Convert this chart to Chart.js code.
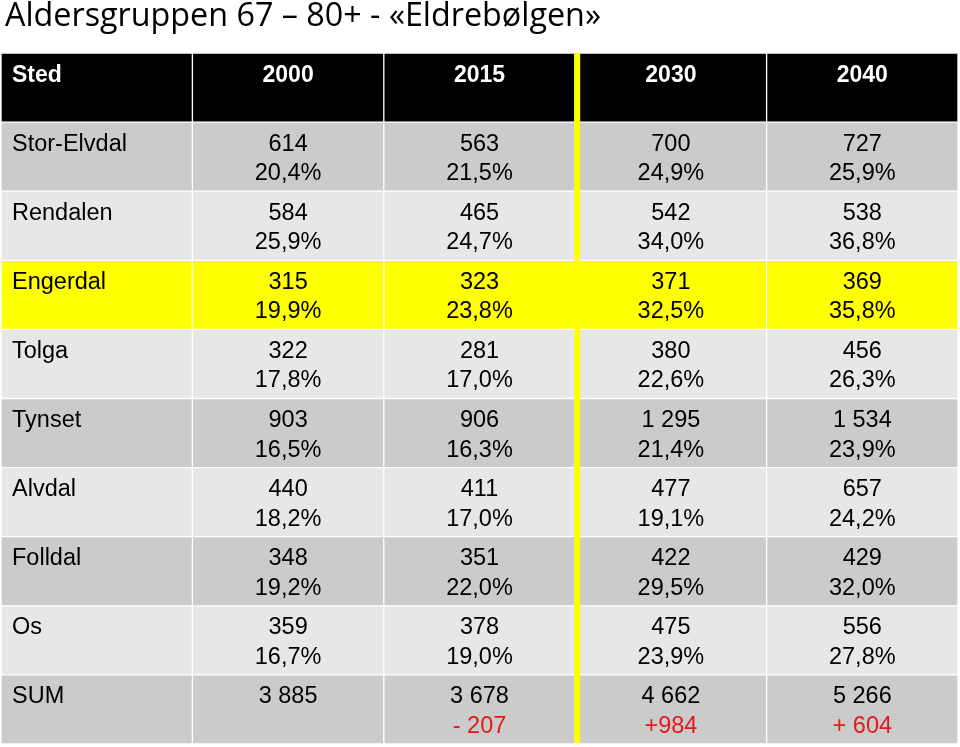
<!DOCTYPE html>
<html lang="no">
<head>
    <meta charset="UTF-8" />
    <title>Aldersgruppen 67 – 80+</title>
    <script src="https://cdn.jsdelivr.net/npm/chart.js"></script>
    <style>
        html, body { margin: 0; background: #fff; }
        #wrap { width: 960px; height: 747px; position: relative; }
    </style>
</head>
<body>
    <div id="wrap"><canvas id="tableChart"></canvas></div>

    <script>
        const titleText = 'Aldersgruppen 67 – 80+ - «Eldrebølgen»';
        const columns = ['Sted', '2000', '2015', '2030', '2040'];
        const places = ['Stor-Elvdal', 'Rendalen', 'Engerdal', 'Tolga', 'Tynset', 'Alvdal', 'Folldal', 'Os'];
        const highlightPlace = 'Engerdal';

        // antall personer 67-80+
        const count2000 = [614, 584, 315, 322, 903, 440, 348, 359];
        const count2015 = [563, 465, 323, 281, 906, 411, 351, 378];
        const count2030 = [700, 542, 371, 380, 1295, 477, 422, 475];
        const count2040 = [727, 538, 369, 456, 1534, 657, 429, 556];

        // andel (%)
        const share2000 = [20.4, 25.9, 19.9, 17.8, 16.5, 18.2, 19.2, 16.7];
        const share2015 = [21.5, 24.7, 23.8, 17.0, 16.3, 17.0, 22.0, 19.0];
        const share2030 = [24.9, 34.0, 32.5, 22.6, 21.4, 19.1, 29.5, 23.9];
        const share2040 = [25.9, 36.8, 35.8, 26.3, 23.9, 24.2, 32.0, 27.8];

        const sumTotals = [3885, 3678, 4662, 5266];
        const sumChanges = ['', '- 207', '+984', '+ 604'];

        const counts = [count2000, count2015, count2030, count2040];
        const shares = [share2000, share2015, share2030, share2040];
        const rows = ['Sted', ...places, 'SUM'];

        const fmtCount = n => String(n).replace(/\B(?=(\d{3})+(?!\d))/g, ' ');
        const fmtShare = v => v.toFixed(1).replace('.', ',') + '%';

        function rowColor(label, r) {
            if (r === 0) return '#000000';
            if (label === highlightPlace) return '#ffff00';
            return r % 2 === 1 ? '#cbcbcb' : '#e7e7e7';
        }

        const datasets = columns.map((col, c) => ({
            label: col,
            data: rows.map(() => [c, c + 1]),
            backgroundColor: rows.map(rowColor),
            borderColor: '#ffffff',
            borderWidth: 1,
            borderSkipped: false,
            grouped: false,
            barPercentage: 1,
            categoryPercentage: 1
        }));

        const cellText = {
            id: 'cellText',
            afterDatasetsDraw(chart) {
                const { ctx, chartArea, scales: { x, y } } = chart;
                const rowH = (chartArea.bottom - chartArea.top) / rows.length;

                ctx.save();

                // gul skillelinje mellom 2015 og 2030
                const xd = x.getPixelForValue(3);
                ctx.fillStyle = '#ffff00';
                ctx.fillRect(xd - 1, chartArea.top, 6, chartArea.bottom - chartArea.top - 1);

                ctx.textBaseline = 'alphabetic';
                rows.forEach((label, r) => {
                    const top = y.getPixelForValue(r) - rowH / 2;
                    const line1 = top + 28.5;
                    const line2 = top + 58;

                    if (r === 0) {
                        ctx.font = 'bold 23px "Liberation Sans", Arial, sans-serif';
                        ctx.fillStyle = '#ffffff';
                        columns.forEach((col, c) => {
                            ctx.textAlign = c === 0 ? 'left' : 'center';
                            const tx = c === 0 ? x.getPixelForValue(0) + 11 : x.getPixelForValue(c + 0.5);
                            ctx.fillText(col, tx, line1);
                        });
                        return;
                    }

                    ctx.font = '23.5px "Liberation Sans", Arial, sans-serif';
                    ctx.fillStyle = '#000000';
                    ctx.textAlign = 'left';
                    ctx.fillText(label, x.getPixelForValue(0) + 11, line1);

                    ctx.textAlign = 'center';
                    for (let c = 1; c < columns.length; c++) {
                        const cx = x.getPixelForValue(c + 0.5);
                        if (label === 'SUM') {
                            ctx.fillStyle = '#000000';
                            ctx.fillText(fmtCount(sumTotals[c - 1]), cx, line1);
                            ctx.fillStyle = '#e21a1a';
                            ctx.fillText(sumChanges[c - 1], cx, line2);
                        } else {
                            ctx.fillStyle = '#000000';
                            ctx.fillText(fmtCount(counts[c - 1][r - 1]), cx, line1);
                            ctx.fillText(fmtShare(shares[c - 1][r - 1]), cx, line2);
                        }
                    }
                });

                // tittel
                ctx.font = '28px "Open Sans", sans-serif';
                const w = ctx.measureText(titleText).width;
                const size = 28 * 596 / w;
                ctx.font = size.toFixed(2) + 'px "Open Sans", sans-serif';
                ctx.textAlign = 'left';
                ctx.fillStyle = '#000000';
                ctx.fillText(titleText, 5, 26);

                ctx.restore();
            }
        };

        new Chart(document.getElementById('tableChart'), {
            type: 'bar',
            data: { labels: rows, datasets: datasets },
            options: {
                indexAxis: 'y',
                responsive: true,
                maintainAspectRatio: false,
                animation: false,
                layout: { padding: { top: 53, left: 1, right: 2, bottom: 3 } },
                plugins: {
                    legend: { display: false },
                    tooltip: { enabled: false }
                },
                scales: {
                    x: { display: false, min: 0, max: 5 },
                    y: { display: false }
                }
            },
            plugins: [cellText]
        });
    </script>
</body>
</html>
